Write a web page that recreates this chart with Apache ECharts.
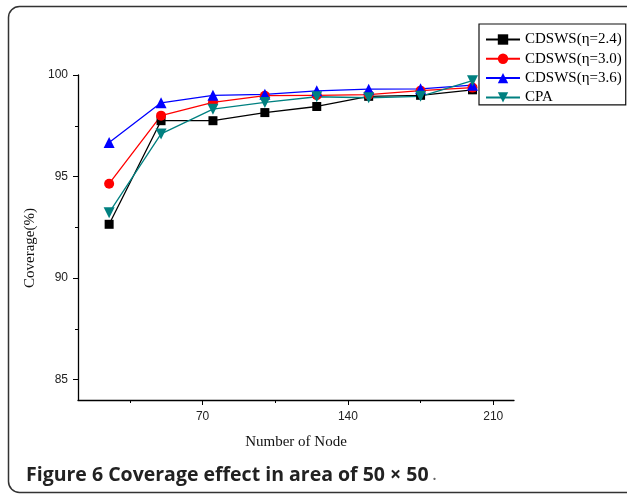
<!DOCTYPE html>
<html>
<head>
<meta charset="utf-8">
<script src="https://cdn.jsdelivr.net/npm/echarts@6/dist/echarts.min.js"></script>
<style>
  html, body { margin: 0; padding: 0; background: #fff; }
  #chart { width: 627px; height: 494px; }
</style>
</head>
<body>
<div id="chart"></div>
<script>
// data
var nodes = [25, 50, 75, 100, 125, 150, 175, 200];
var eta24 = [92.65, 97.75, 97.75, 98.15, 98.45, 98.95, 99.0, 99.27];
var eta30 = [94.65, 98.0, 98.65, 98.98, 99.0, 99.03, 99.23, 99.38];
var eta36 = [96.68, 98.63, 99.0, 99.05, 99.22, 99.3, 99.32, 99.5];
var cpa = [93.22, 97.1, 98.32, 98.65, 98.93, 98.88, 98.95, 99.72];

var xLabels = [70, 140, 210];
var xMinor = [35, 105, 175];
var yLabels = [85, 90, 95, 100];
var yMinor = [87.5, 92.5, 97.5];

function pairs(ys) {
  return nodes.map(function (x, i) { return [x, ys[i]]; });
}

var serif = '"Liberation Serif", "Times New Roman", serif';
var sans = '"Liberation Sans", Arial, sans-serif';

var dom = document.getElementById('chart');
var myChart = echarts.init(dom, null, { renderer: 'canvas' });

function lineSeries(name, ys, color, symbol, size, rotate) {
  return {
    name: name,
    type: 'line',
    data: pairs(ys),
    xAxisIndex: 0,
    yAxisIndex: 0,
    symbol: symbol,
    symbolSize: size,
    symbolRotate: rotate || 0,
    showAllSymbol: true,
    lineStyle: { color: color, width: 1.3 },
    itemStyle: { color: color },
    emphasis: { disabled: true },
    animation: false
  };
}

var option = {
  animation: false,
  grid: { left: 78, right: 113, top: 75, bottom: 94, containLabel: false },
  graphic: [
    {
      type: 'rect',
      shape: { x: 8.5, y: 6.5, width: 660, height: 486, r: 11 },
      style: { fill: 'none', stroke: '#333', lineWidth: 1.5 },
      silent: true
    },
    {
      type: 'text',
      left: 26,
      top: 465,
      style: {
        text: '{b|Figure 6 Coverage effect in area of 50 \u00d7 50} {p|.}',
        rich: {
          b: { font: 'bold 19.5px "Open Sans", "Noto Sans", sans-serif', fill: '#222' },
          p: { font: '19px "Open Sans", "Noto Sans", sans-serif', fill: '#666' }
        }
      }
    }
  ],
  legend: {
    orient: 'vertical',
    left: 479,
    top: 24,
    width: 142,
    padding: [8, 4, 0, 6],
    borderColor: '#111',
    borderWidth: 1.2,
    borderRadius: 0,
    itemWidth: 34,
    itemHeight: 13,
    itemGap: 4.3,
    textStyle: { fontFamily: serif, fontSize: 15, color: '#000' },
    data: ['CDSWS(\u03b7=2.4)', 'CDSWS(\u03b7=3.0)', 'CDSWS(\u03b7=3.6)', 'CPA']
  },
  xAxis: [
    {
      type: 'value',
      min: 10,
      max: 220,
      name: 'Number of Node',
      nameLocation: 'middle',
      nameGap: 35,
      nameTextStyle: { fontFamily: serif, fontSize: 15, color: '#111' },
      axisLine: { lineStyle: { color: '#000', width: 1.3 } },
      axisTick: { customValues: xLabels, length: 5, lineStyle: { color: '#000' } },
      axisLabel: { customValues: xLabels, margin: 11, fontFamily: sans, fontSize: 12, color: '#222' },
      splitLine: { show: false }
    },
    {
      type: 'value',
      min: 10,
      max: 220,
      position: 'bottom',
      axisLine: { show: false },
      axisTick: { customValues: xMinor, length: 3, lineStyle: { color: '#000' } },
      axisLabel: { show: false },
      splitLine: { show: false }
    }
  ],
  yAxis: [
    {
      type: 'value',
      min: 84,
      max: 100,
      name: 'Coverage(%)',
      nameLocation: 'middle',
      nameGap: 38,
      nameTextStyle: { fontFamily: serif, fontSize: 15, color: '#111', padding: [0, 21, 0, 0] },
      axisLine: { show: true, lineStyle: { color: '#000', width: 1.3 } },
      axisTick: { show: true, customValues: yLabels, length: 5, lineStyle: { color: '#000' } },
      axisLabel: { customValues: yLabels, margin: 10, fontFamily: sans, fontSize: 12, color: '#222' },
      splitLine: { show: false }
    },
    {
      type: 'value',
      min: 84,
      max: 100,
      position: 'left',
      axisLine: { show: false },
      axisTick: { show: true, customValues: yMinor, length: 3, lineStyle: { color: '#000' } },
      axisLabel: { show: false },
      splitLine: { show: false }
    }
  ],
  series: [
    lineSeries('CDSWS(\u03b7=2.4)', eta24, '#000000', 'rect', 9),
    lineSeries('CDSWS(\u03b7=3.0)', eta30, '#ff0000', 'circle', 10),
    lineSeries('CDSWS(\u03b7=3.6)', eta36, '#0000ff', 'triangle', 11),
    lineSeries('CPA', cpa, '#008080', 'triangle', 11, 180)
  ]
};

myChart.setOption(option);
window.addEventListener('resize', myChart.resize);
</script>
</body>
</html>
